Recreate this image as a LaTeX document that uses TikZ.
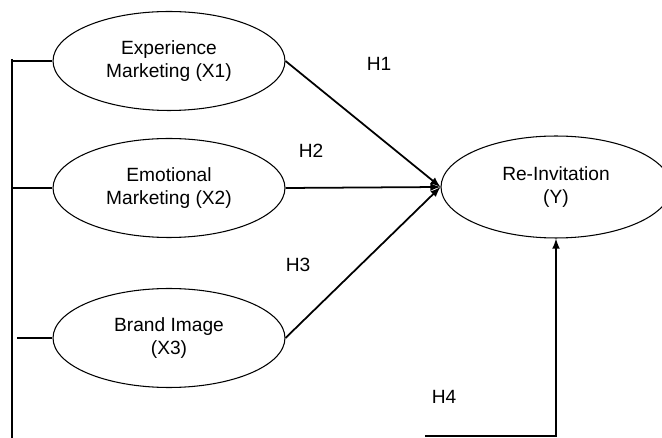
\documentclass[tikz,border=0pt]{standalone}
\usepackage{fontspec}
\setmainfont{Liberation Sans}
\usetikzlibrary{arrows,shapes,positioning}
\tikzset{% latent variables and paths
	construct/.style={ellipse, draw, line width=0.6pt, inner sep=0pt,
		minimum width=4.64cm, minimum height=1.98cm, align=center,
		font=\fontsize{10.9}{13}\selectfont},
	path line/.style={line width=0.8pt},
	hyp/.style={font=\fontsize{10.9}{13}\selectfont}
}

\begin{document}
\begin{tikzpicture}[x=0.02cm, y=-0.02cm]
				\useasboundingbox (0,0) rectangle (662,438);
				
				% exogenous constructs
				\node[construct] (x1) at (169,61) {Experience\\Marketing (X1)};
				\node[construct] (x2) at (169,188) {Emotional\\Marketing (X2)};
				\node[construct] (x3) at (169,338) {Brand Image\\(X3)};
				
				% endogenous construct
				\node[construct, minimum width=4.6cm, minimum height=2.04cm] (y) at (556,187) {Re-Invitation\\(Y)};
				
				% bracket on the left
				\coordinate (lefttop) at (12,59);
				\coordinate (leftbot) at (12,438);
				\coordinate (x3tail) at (17,338);
				\draw[path line] (lefttop) -- (leftbot);
				\draw[path line] (x1.west) -- (x1.west -| lefttop);
				\draw[path line] (x2.west) -- (x2.west -| lefttop);
				\draw[path line] (x3.west) -- (x3tail);
				
				% hypotheses
				\draw[path line, -latex, line width=1pt] (x1.east) -- (y.west);
				\draw[path line, -latex, line width=1pt] (x2.east) -- (y.west);
				\draw[path line, -latex, line width=1pt] (x3.east) -- (y.west);
				\coordinate (h4tail) at (425,436);
				\draw[path line, -latex, line width=1pt] (h4tail) -- (h4tail -| y.south) -- (y.south);
				
				\node[hyp] (h1) at (379,64) {H1};
				\node[hyp] (h2) at (311,151) {H2};
				\node[hyp] (h3) at (298,265) {H3};
				\node[hyp] (h4) at (444,397) {H4};
				\end{tikzpicture}
\end{document}
